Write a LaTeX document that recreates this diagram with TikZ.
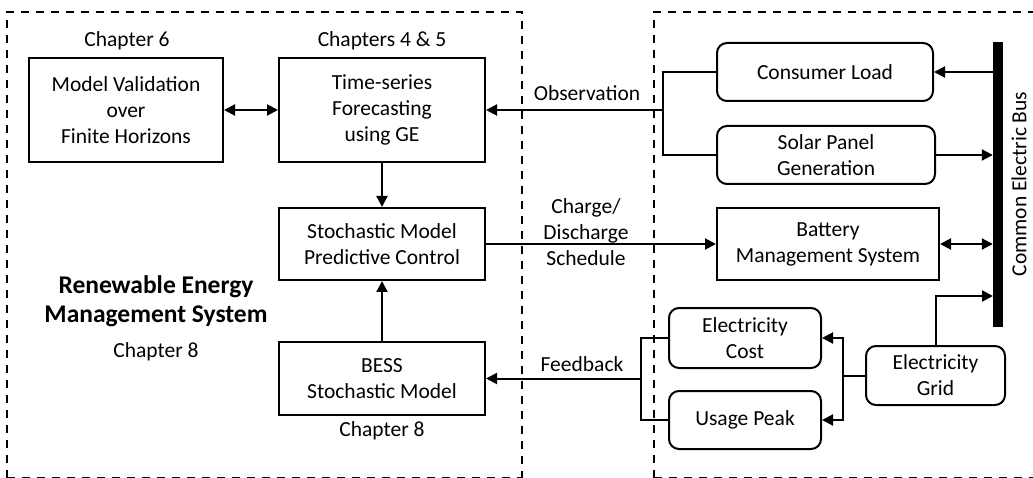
\documentclass[tikz,border=0pt]{standalone}
\usepackage{fontspec}
\setmainfont{Carlito}
\usetikzlibrary{arrows.meta}

\tikzset{
  txt/.style={font=\fontsize{21.5}{26}\selectfont, align=center, inner sep=0pt},
  sqbox/.style={txt, draw, line width=2pt},
  rbox/.style={txt, draw, line width=2pt, rounded corners=10pt},
  link/.style={line width=2pt},
  arr/.style={link, -{Triangle[length=11pt,width=11pt]}},
  dbl/.style={link, {Triangle[length=11pt,width=11pt]}-{Triangle[length=11pt,width=11pt]}},
  region/.style={line width=1.6pt, dash pattern=on 8pt off 7pt},
}

\begin{document}
\begin{tikzpicture}[x=1pt, y=-1pt]
  \useasboundingbox (0,0) rectangle (1033,478);

  % dashed boundaries of the two regions
  \draw[region] (7,478) -- (7,12) -- (522,12) -- (522,478);
  \draw[region] (7,477.5) -- (522,477.5);
  \draw[region] (654,478) -- (654,12) -- (1040,12);
  \draw[region] (654,477.5) -- (1040,477.5);

  % management system blocks
  \node[sqbox, minimum width=194pt, minimum height=104pt] (mv) at (126,110)
    {Model Validation\\over\\Finite Horizons};
  \node[sqbox, minimum width=206pt, minimum height=104pt] (ts) at (382,110)
    {Time-series\\Forecasting\\using GE};
  \node[sqbox, minimum width=206pt, minimum height=72pt] (mpc) at (382,244)
    {Stochastic Model\\Predictive Control};
  \node[sqbox, minimum width=206pt, minimum height=73pt] (bess) at (382,378.5)
    {BESS\\Stochastic Model};

  \node[txt] (ch6) at (127,41) {Chapter 6};
  \node[txt] (ch45) at (382,41) {Chapters 4 \& 5};
  \node[txt] (ch8b) at (382,431) {Chapter 8};
  \node[txt, font=\fontsize{25.5}{29}\selectfont\bfseries] (rems) at (156,301.5)
    {Renewable Energy\\Management System};
  \node[txt] (ch8) at (156,352) {Chapter 8};

  % physical system blocks
  \node[rbox, minimum width=216pt, minimum height=58pt] (cl) at (825,72) {Consumer Load};
  \node[rbox, minimum width=218pt, minimum height=58pt] (sp) at (826,155) {Solar Panel\\Generation};
  \node[sqbox, minimum width=222pt, minimum height=72pt] (bms) at (828,244) {Battery\\Management System};
  \node[rbox, minimum width=152pt, minimum height=60pt] (cost) at (745,338) {Electricity\\Cost};
  \node[rbox, minimum width=152pt, minimum height=58pt] (peak) at (745,420) {Usage Peak};
  \node[rbox, minimum width=139pt, minimum height=59pt] (grid) at (935.5,375.5) {Electricity\\Grid};

  % common bus
  \node[fill=black, inner sep=0pt, minimum width=10pt, minimum height=285pt] (bus) at (998,184.5) {};
  \node[txt, rotate=90] (buslbl) at (1019,184) {Common Electric Bus};

  % internal links
  \draw[dbl] (mv.east) -- (ts.west);
  \draw[arr] (ts.south) -- (mpc.north);
  \draw[arr] (bess.north) -- (mpc.south);

  % observation path
  \coordinate (obs) at (663,110);
  \draw[link] (cl.west) -| (obs) |- (sp.west);
  \draw[arr] (obs) -- (ts.east);
  \node[txt] (obslbl) at (587,93) {Observation};

  % charge / discharge schedule
  \draw[arr] (mpc.east) -- (bms.west);
  \node[txt] (schlbl) at (586,232) {Charge/\\Discharge\\Schedule};

  % bus connections
  \draw[arr] (bus.west |- cl.east) -- (cl.east);
  \draw[arr] (sp.east) -- (bus.west |- sp.east);
  \draw[dbl] (bms.east) -- (bus.west |- bms.east);
  \coordinate (gridbus) at (993,296);
  \draw[arr] (grid.north) |- (gridbus);

  % grid to tariffs
  \coordinate (gsplit) at (843,375.5);
  \draw[link] (grid.west) -- (gsplit);
  \draw[arr] (gsplit) |- (cost.east);
  \draw[arr] (gsplit) |- (peak.east);

  % feedback path
  \coordinate (fb) at (641,378.5);
  \draw[link] (cost.west) -| (fb) |- (peak.west);
  \draw[arr] (fb) -- (bess.east);
  \node[txt] (fblbl) at (582,364) {Feedback};
\end{tikzpicture}
\end{document}
